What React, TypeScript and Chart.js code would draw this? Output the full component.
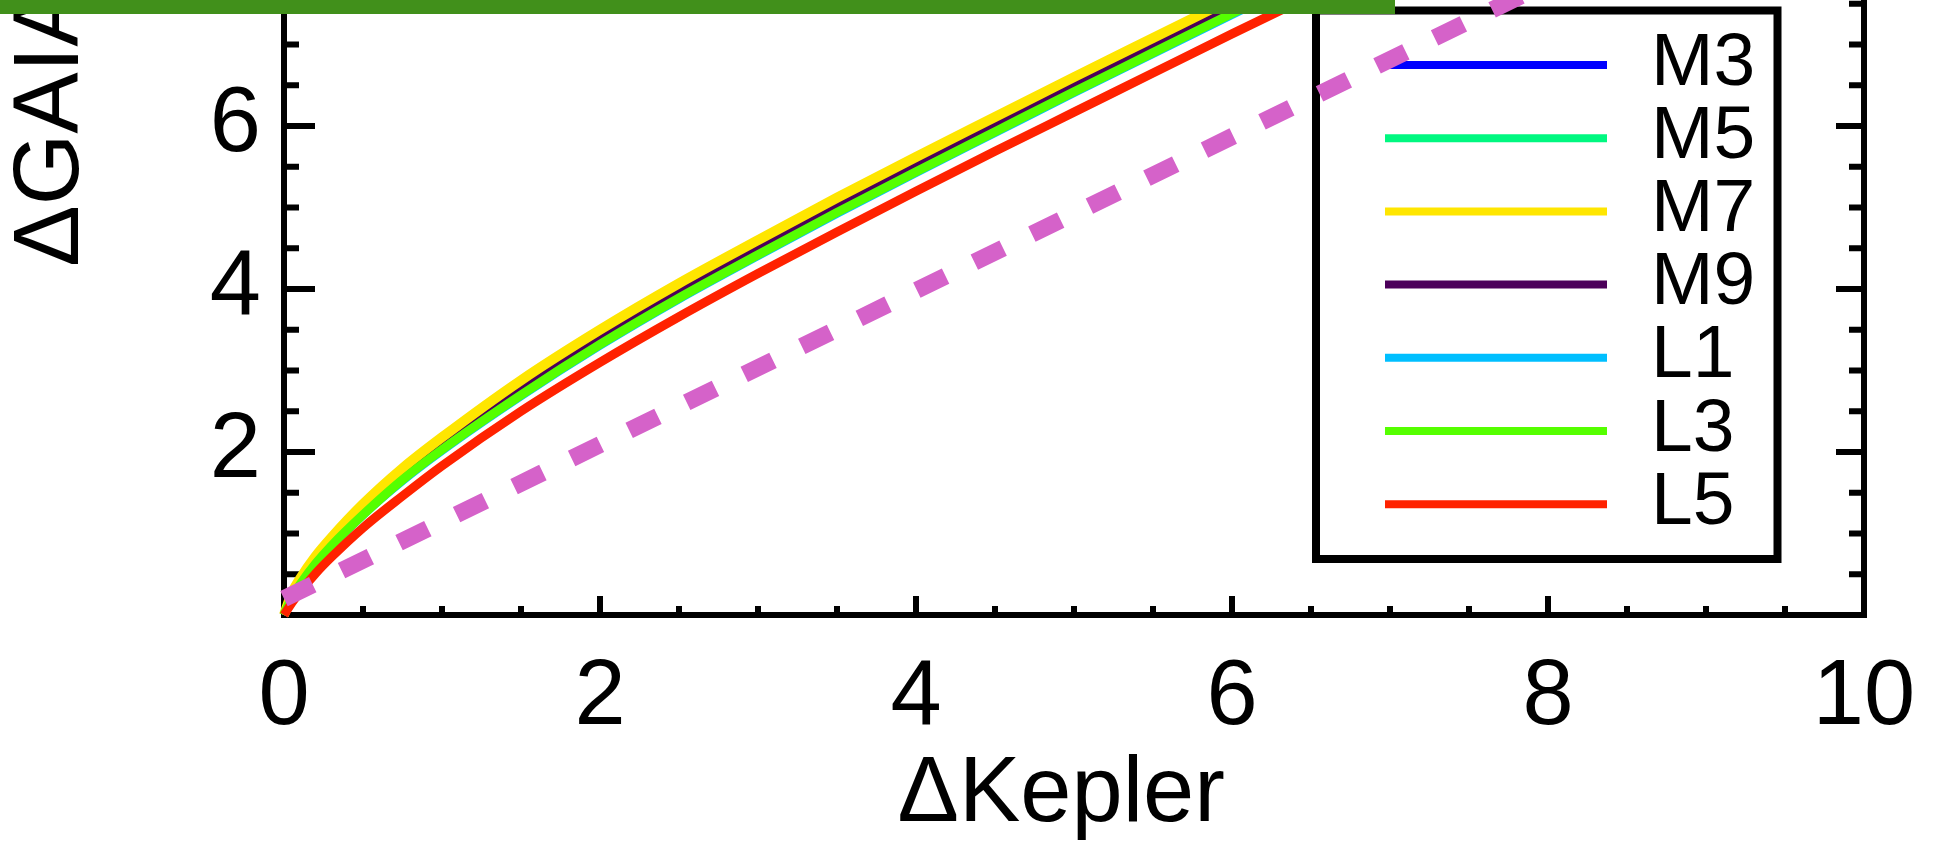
import React, { useEffect, useRef } from 'react';
import { Chart, registerables } from 'chart.js';

Chart.register(...registerables);

// ΔKepler sample points shared by the seven spectral-type curves
const deltaKepler = [0, 0.05, 0.1, 0.2, 0.3, 0.5, 0.75, 1, 1.5, 2, 2.5, 3, 3.5, 4, 4.5, 5, 5.5, 6, 6.5];

// ΔGAIA for each spectral type at the ΔKepler points above
const gaiaM3 = [0, 0.25, 0.41, 0.68, 0.91, 1.31, 1.75, 2.12, 2.81, 3.43, 4.0, 4.53, 5.05, 5.55, 6.03, 6.51, 7.0, 7.48, 7.96];
const gaiaM5 = [0, 0.25, 0.42, 0.69, 0.91, 1.32, 1.75, 2.13, 2.82, 3.44, 4.01, 4.54, 5.06, 5.56, 6.04, 6.52, 7.01, 7.49, 7.97];
const gaiaM7 = [0, 0.27, 0.44, 0.72, 0.95, 1.36, 1.8, 2.18, 2.88, 3.5, 4.07, 4.6, 5.12, 5.62, 6.11, 6.6, 7.08, 7.56, 8.03];
const gaiaM9 = [0, 0.24, 0.4, 0.67, 0.89, 1.29, 1.72, 2.09, 2.77, 3.39, 3.96, 4.49, 5.01, 5.51, 6.0, 6.49, 6.97, 7.45, 7.92];
const gaiaL1 = [0, 0.21, 0.37, 0.62, 0.84, 1.23, 1.65, 2.02, 2.69, 3.31, 3.88, 4.41, 4.93, 5.43, 5.92, 6.41, 6.89, 7.37, 7.84];
const gaiaL3 = [0, 0.22, 0.37, 0.63, 0.85, 1.23, 1.66, 2.03, 2.7, 3.32, 3.89, 4.42, 4.94, 5.44, 5.93, 6.42, 6.9, 7.38, 7.85];
const gaiaL5 = [0, 0.15, 0.28, 0.51, 0.71, 1.07, 1.46, 1.83, 2.5, 3.1, 3.66, 4.19, 4.7, 5.2, 5.69, 6.17, 6.65, 7.13, 7.6];

const spectralTypes = ['M3', 'M5', 'M7', 'M9', 'L1', 'L3', 'L5'];
const gaiaSeries = [gaiaM3, gaiaM5, gaiaM7, gaiaM9, gaiaL1, gaiaL3, gaiaL5];
const typeColors = ['#0000ff', '#00f880', '#ffe600', '#4c005a', '#00bfff', '#55ff00', '#ff2200'];
const typeWidths = [9, 9, 10, 9, 9, 9, 9];
// painting depth: a higher number is painted earlier (further back)
const typeDepth = [8, 6, 4, 5, 7, 3, 2];

// dashed straight reference line
const referenceKepler = [0, 10];
const referenceGaia = [0.2, 9.65];

const FONT = "'Liberation Sans', Arial, Helvetica, sans-serif";
const HIDDEN_ROWS = 363; // canvas rows that sit above the visible page
const CANVAS_W = 1938;
const CANVAS_H = 842 + HIDDEN_ROWS;

const framePlugin = {
  id: 'frameTicks',
  beforeDatasetsDraw(chart: any) {
    const { ctx, chartArea: a, scales } = chart;
    const xs = scales.x;
    const ys = scales.y;
    ctx.save();
    ctx.strokeStyle = '#000';
    ctx.lineWidth = 6;
    ctx.lineCap = 'butt';
    ctx.beginPath();
    for (let v = ys.min; v <= ys.max + 1e-6; v += 0.5) {
      const py = ys.getPixelForValue(v);
      const major = Math.abs(v % 2) < 1e-6;
      ctx.moveTo(a.left, py);
      ctx.lineTo(a.left + (major ? 31 : 15), py);
      ctx.moveTo(a.right, py);
      ctx.lineTo(a.right - (major ? 28 : 15), py);
    }
    for (let v = xs.min; v <= xs.max + 1e-6; v += 0.5) {
      const px = xs.getPixelForValue(v);
      const major = Math.abs(v % 2) < 1e-6;
      ctx.moveTo(px, a.bottom);
      ctx.lineTo(px, a.bottom - (major ? 19 : 9));
      ctx.moveTo(px, a.top);
      ctx.lineTo(px, a.top + (major ? 19 : 9));
    }
    ctx.stroke();
    ctx.strokeRect(a.left, a.top, a.right - a.left, a.bottom - a.top);
    ctx.restore();
  },
};

const legendPlugin = {
  id: 'boxedLegend',
  beforeDatasetDraw(chart: any, args: any) {
    const ds = chart.data.datasets[args.index];
    if (!ds.isReference) return;
    const { ctx } = chart;
    const s = HIDDEN_ROWS;
    ctx.save();
    ctx.fillStyle = '#fff';
    ctx.fillRect(1316, 10.5 + s, 461.5, 548.5);
    ctx.strokeStyle = '#000';
    ctx.lineWidth = 8;
    ctx.strokeRect(1316, 10.5 + s, 461.5, 548.5);
    const entries = chart.data.datasets.filter((d: any) => !d.isReference);
    entries.forEach((d: any, i: number) => {
      const y = 65 + i * 73.2 + s;
      ctx.strokeStyle = d.borderColor;
      ctx.lineWidth = 8;
      ctx.lineCap = 'butt';
      ctx.beginPath();
      ctx.moveTo(1385, y);
      ctx.lineTo(1607, y);
      ctx.stroke();
      ctx.fillStyle = '#000';
      ctx.font = `75px ${FONT}`;
      ctx.textAlign = 'left';
      ctx.textBaseline = 'alphabetic';
      ctx.fillText(d.label, 1651, y + 19.5);
    });
    ctx.restore();
  },
  afterDraw(chart: any) {
    const { ctx } = chart;
    ctx.save();
    ctx.fillStyle = '#41901b';
    ctx.fillRect(0, HIDDEN_ROWS - 20, 1395, 34);
    ctx.restore();
  },
};

export default function App() {
  const canvasRef = useRef<HTMLCanvasElement | null>(null);

  useEffect(() => {
    const canvas = canvasRef.current;
    if (!canvas) return;

    const curveSets = spectralTypes.map((name, i) => ({
      label: name,
      data: deltaKepler.map((x, j) => ({ x, y: gaiaSeries[i][j] })),
      borderColor: typeColors[i],
      backgroundColor: typeColors[i],
      borderWidth: typeWidths[i],
      pointRadius: 0,
      fill: false,
      cubicInterpolationMode: 'monotone',
      order: typeDepth[i],
      clip: 6,
    }));

    const referenceSet = {
      label: 'reference',
      isReference: true,
      data: referenceKepler.map((x, j) => ({ x, y: referenceGaia[j] })),
      borderColor: '#d562c9',
      backgroundColor: '#d562c9',
      borderWidth: 17,
      borderDash: [32, 32],
      borderCapStyle: 'butt',
      pointRadius: 0,
      fill: false,
      tension: 0,
      order: 1,
      clip: 10,
    };

    const tickFont = { family: FONT, size: 92, lineHeight: 1 };

    const chart = new Chart(canvas, {
      type: 'line',
      data: { datasets: [...curveSets, referenceSet] as any },
      options: {
        responsive: false,
        animation: false,
        events: [],
        layout: { padding: { left: 0, right: 74, top: 0, bottom: 0 } },
        plugins: {
          legend: { display: false },
          tooltip: { enabled: false },
        },
        scales: {
          x: {
            type: 'linear',
            min: 0,
            max: 10,
            grid: { display: false, drawTicks: false },
            border: { display: false },
            ticks: {
              stepSize: 2,
              autoSkip: false,
              maxRotation: 0,
              padding: 38,
              color: '#000',
              font: tickFont,
            },
            title: {
              display: true,
              text: 'ΔKepler ',
              color: '#000',
              font: tickFont,
              padding: { top: 0, bottom: 0 },
            },
            afterFit(scale: any) {
              scale.height = 227;
              scale.paddingLeft = 0;
              scale.paddingRight = 0;
            },
          },
          y: {
            type: 'linear',
            min: 0,
            max: 12,
            grid: { display: false, drawTicks: false },
            border: { display: false },
            ticks: {
              stepSize: 2,
              autoSkip: false,
              padding: 23,
              color: '#000',
              font: tickFont,
              callback: (v: any) => (v === 0 || v === 12 ? '' : String(v)),
            },
            title: {
              display: true,
              text: 'ΔGAIA',
              color: '#000',
              font: tickFont,
              padding: { top: 6.5, bottom: 0 },
            },
            afterFit(scale: any) {
              scale.width = 284;
              scale.paddingTop = 0;
              scale.paddingBottom = 0;
            },
          },
        },
      } as any,
      plugins: [framePlugin, legendPlugin],
    });

    return () => chart.destroy();
  }, []);

  return (
    <div
      style={{
        position: 'absolute',
        left: 0,
        top: 0,
        width: CANVAS_W,
        height: 842,
        overflow: 'hidden',
        background: '#fff',
      }}
    >
      <canvas
        ref={canvasRef}
        width={CANVAS_W}
        height={CANVAS_H}
        style={{ position: 'absolute', left: 0, top: -HIDDEN_ROWS, width: CANVAS_W, height: CANVAS_H, display: 'block' }}
      />
    </div>
  );
}
